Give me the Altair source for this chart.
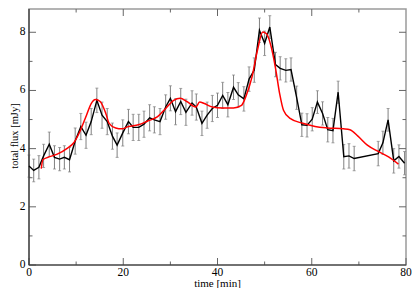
import altair as alt
import pandas as pd

# ---- data ----
time = [0.0, 1.0, 2.1, 3.1, 4.3, 5.4, 6.5, 7.5, 8.6, 9.8, 11.0, 12.1, 13.2, 14.4, 15.5,
        16.6, 17.7, 18.7, 19.9, 21.1, 22.1, 23.3, 24.4, 25.6, 26.6, 27.8, 29.0, 30.0,
        31.1, 32.2, 33.3, 34.6, 35.5, 36.7, 37.8, 38.9, 40.0, 41.1, 42.2, 43.4, 44.4,
        45.6, 46.7, 47.8, 48.9, 50.0, 51.1, 52.3, 53.3, 54.5, 55.6, 56.8, 57.9, 59.0,
        60.1, 61.2, 62.3, 63.4, 64.5, 65.6, 66.8, 67.9, 69.0, 74.1, 75.1, 76.2, 77.4,
        78.5, 79.7]
flux = [3.40, 3.25, 3.36, 3.75, 4.15, 3.70, 3.64, 3.70, 3.62, 4.26, 4.76, 4.46, 4.93,
        5.66, 5.15, 4.93, 4.43, 4.12, 4.54, 4.93, 4.73, 4.73, 4.84, 5.06, 4.99, 4.93,
        5.43, 5.73, 5.27, 5.62, 5.25, 5.57, 5.43, 4.87, 5.15, 5.38, 5.49, 5.83, 5.51,
        6.11, 5.85, 5.71, 6.39, 6.70, 8.07, 7.62, 8.18, 6.89, 6.76, 6.69, 6.72, 5.75,
        4.82, 4.80, 5.01, 5.60, 5.21, 4.65, 4.62, 5.94, 3.72, 3.75, 3.66, 3.83, 4.20,
        4.99, 3.58, 3.73, 3.50]
err = [0.38, 0.39, 0.40, 0.40, 0.42, 0.40, 0.40, 0.40, 0.42, 0.45, 0.45, 0.45, 0.45,
       0.42, 0.45, 0.45, 0.45, 0.42, 0.45, 0.42, 0.45, 0.45, 0.45, 0.45, 0.45, 0.45,
       0.42, 0.43, 0.45, 0.45, 0.45, 0.42, 0.45, 0.42, 0.45, 0.45, 0.42, 0.45, 0.42,
       0.42, 0.42, 0.42, 0.42, 0.42, 0.42, 0.42, 0.39, 0.42, 0.40, 0.40, 0.40, 0.40,
       0.40, 0.40, 0.40, 0.39, 0.40, 0.42, 0.42, 0.38, 0.42, 0.42, 0.42, 0.42, 0.40,
       0.39, 0.42, 0.40, 0.40]

model_time = [2.6, 2.95, 4.0, 6.0, 8.1, 9.5, 10.8, 12.2, 13.2, 14.1, 15.1, 16.3, 17.0,
              18.4, 19.7, 21.1, 23.2, 25.2, 27.3, 29.0, 30.7, 32.1, 33.5, 35.4, 36.2,
              37.2, 38.9, 41.0, 43.4, 45.1, 46.1, 47.3, 48.5, 49.6, 50.4, 51.3, 52.3,
              53.2, 54.0, 55.4, 58.1, 60.7, 63.3, 66.7, 68.1, 69.8, 71.8, 73.9, 76.3, 78.4]
model_flux = [3.31, 3.62, 3.70, 3.81, 4.01, 4.20, 4.59, 5.15, 5.55, 5.69, 5.62, 5.21,
              4.87, 4.71, 4.68, 4.76, 4.82, 4.95, 5.10, 5.38, 5.66, 5.73, 5.62, 5.43,
              5.60, 5.55, 5.43, 5.40, 5.40, 5.49, 5.83, 6.45, 7.40, 8.01, 7.95, 7.56,
              6.78, 5.88, 5.32, 5.04, 4.87, 4.76, 4.71, 4.68, 4.65, 4.43, 4.12, 3.92,
              3.72, 3.47]

x_major = [0, 20, 40, 60, 80]
x_minor = [10, 30, 50, 70]
y_major = [0, 2, 4, 6, 8]
y_minor = [1, 3, 5, 7]
x_title = "time [min]"
y_title = "total flux [mJy]"

# ---- layout ----
W, H = 377, 256
PAD_L, PAD_T = 21, 1
Y_TOP = 8.8
FONT = "Liberation Serif, Times New Roman, DejaVu Serif, serif"
TICK_COLOR = "#666666"
AXIS_COLOR = "#333333"

obs = pd.DataFrame({"t": time, "f": flux, "e": err})
obs["lo"] = obs["f"] - obs["e"]
obs["hi"] = obs["f"] + obs["e"]
model = pd.DataFrame({"t": model_time, "f": model_flux})

xs = alt.Scale(domain=[0, 80], nice=False, zero=False)
ys = alt.Scale(domain=[0, Y_TOP], nice=False, zero=False)

base = alt.Chart(obs)

bars = base.mark_rule(color="#808080", strokeWidth=1).encode(
    x=alt.X("t:Q", scale=xs, axis=None),
    y=alt.Y("lo:Q", scale=ys, axis=None),
    y2="hi:Q",
)
cap_lo = base.mark_tick(color="#808080", orient="horizontal", size=3, thickness=1).encode(
    x=alt.X("t:Q", scale=xs, axis=None),
    y=alt.Y("lo:Q", scale=ys, axis=None),
)
cap_hi = base.mark_tick(color="#808080", orient="horizontal", size=3, thickness=1).encode(
    x=alt.X("t:Q", scale=xs, axis=None),
    y=alt.Y("hi:Q", scale=ys, axis=None),
)
obs_line = base.mark_line(color="black", strokeWidth=1.4).encode(
    x=alt.X("t:Q", scale=xs, axis=None),
    y=alt.Y("f:Q", scale=ys, axis=None),
)
model_line = alt.Chart(model).mark_line(color="#ff0000", strokeWidth=1.5,
                                        interpolate="monotone").encode(
    x=alt.X("t:Q", scale=xs, axis=None),
    y=alt.Y("f:Q", scale=ys, axis=None),
)


def xticks(vals, y0, y1):
    return alt.Chart(pd.DataFrame({"v": vals})).mark_rule(
        color=TICK_COLOR, strokeWidth=1).encode(
        x=alt.X("v:Q", scale=xs, axis=None), y=alt.value(y0), y2=alt.value(y1))


def yticks(vals, x0, x1):
    return alt.Chart(pd.DataFrame({"v": vals})).mark_rule(
        color=TICK_COLOR, strokeWidth=1).encode(
        y=alt.Y("v:Q", scale=ys, axis=None), x=alt.value(x0), x2=alt.value(x1))


tick_layers = [
    xticks(x_major, H, H - 7), xticks(x_minor, H, H - 3.5),
    xticks(x_major[1:-1], 0, 7), xticks(x_minor, 0, 3.5),
    yticks(y_major, 0, 7), yticks(y_minor, 0, 3.5),
    yticks(y_major[1:], W, W - 7), yticks(y_minor, W, W - 3.5),
]

# axis lines (left / bottom darker than the frame)
left_line = alt.Chart(pd.DataFrame({"v": [0]})).mark_rule(
    color=AXIS_COLOR, strokeWidth=1.2).encode(
    x=alt.value(0), y=alt.value(0), y2=alt.value(H))
bottom_line = alt.Chart(pd.DataFrame({"v": [0]})).mark_rule(
    color=AXIS_COLOR, strokeWidth=1.2).encode(
    x=alt.value(0), x2=alt.value(W), y=alt.value(H))

# tick labels
xlab_df = pd.DataFrame({"v": x_major, "lab": [str(v) for v in x_major]})
ylab_df = pd.DataFrame({"v": y_major, "lab": [str(v) for v in y_major]})
x_labels = alt.Chart(xlab_df).mark_text(
    font=FONT, fontSize=11.5, color="black", align="center", baseline="alphabetic").encode(
    x=alt.X("v:Q", scale=xs, axis=None), y=alt.value(H + 10.5), text="lab:N")
y_labels = alt.Chart(ylab_df).mark_text(
    font=FONT, fontSize=11.5, color="black", align="right", baseline="middle").encode(
    y=alt.Y("v:Q", scale=ys, axis=None), x=alt.value(-3.5), text="lab:N")

# axis titles
x_title_mark = alt.Chart(pd.DataFrame({"s": [x_title]})).mark_text(
    font=FONT, fontSize=11, color="black", align="center", baseline="alphabetic").encode(
    x=alt.value(W / 2), y=alt.value(H + 21.5), text="s:N")
y_title_mark = alt.Chart(pd.DataFrame({"s": [y_title]})).mark_text(
    font=FONT, fontSize=10.5, color="black", align="center", baseline="alphabetic",
    angle=270).encode(
    x=alt.value(-11.5), y=alt.value(127), text="s:N")

chart = alt.layer(
    bars, cap_lo, cap_hi, *tick_layers, left_line, bottom_line,
    obs_line, model_line, x_labels, y_labels, x_title_mark, y_title_mark
).properties(
    width=W, height=H,
    autosize=alt.AutoSizeParams(type="none"),
    padding={"left": PAD_L, "top": PAD_T, "right": 404 - PAD_L - W,
             "bottom": 280 - PAD_T - H},
    background="white",
).configure_view(stroke="#9a9a9a", strokeWidth=1.5)

chart.save("out.html", embed_options={"renderer": "svg", "actions": False})
